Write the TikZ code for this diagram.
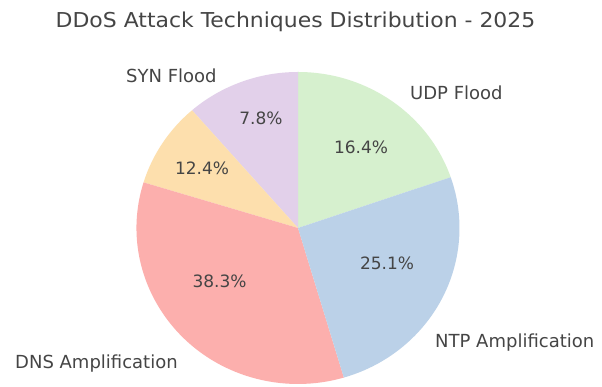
\documentclass[tikz,border=0pt]{standalone}
\usepackage{fontspec}
\setmainfont{DejaVu Sans}
\definecolor{cred}{HTML}{FCAFAD}
\definecolor{cblue}{HTML}{BBD1E8}
\definecolor{cgreen}{HTML}{D6F0CE}
\definecolor{cpurple}{HTML}{E2D0EA}
\definecolor{corange}{HTML}{FDDFAD}
\definecolor{ctext}{HTML}{454545}
\begin{document}
\begin{tikzpicture}[x=1pt,y=1pt,
  lbl/.style={text=ctext,font=\fontsize{18}{20}\selectfont,inner sep=0pt,anchor=base west},
  pct/.style={text=ctext,font=\fontsize{17}{19}\selectfont,inner sep=0pt,anchor=base},
  ttl/.style={text=ctext,font=\fontsize{20.5}{23}\selectfont,inner sep=0pt,anchor=base,xscale=1.07}]
\fill[white] (0,0) rectangle (602,387);
\useasboundingbox (0,0) rectangle (602,387);
\coordinate (c) at (298,159);
% wedges
\fill[cgreen]  (c) -- ++(19:161.5 and 156)  arc[start angle=19,  end angle=90,   x radius=161.5, y radius=156] -- cycle;
\fill[cpurple] (c) -- ++(90:161.5 and 156)  arc[start angle=90,  end angle=131,  x radius=161.5, y radius=156] -- cycle;
\fill[corange] (c) -- ++(131:161.5 and 156) arc[start angle=131, end angle=163,  x radius=161.5, y radius=156] -- cycle;
\fill[cred]    (c) -- ++(163:161.5 and 156) arc[start angle=163, end angle=286.5,x radius=161.5, y radius=156] -- cycle;
\fill[cblue]   (c) -- ++(-73.5:161.5 and 156) arc[start angle=-73.5, end angle=19, x radius=161.5, y radius=156] -- cycle;
% title
\node[ttl] (title) at (295.5,359.7) {DDoS Attack Techniques Distribution - 2025};
% labels
\node[lbl] (syn) at (126,304) {SYN Flood};
\node[lbl] (udp) at (410,287) {UDP Flood};
\node[lbl] (ntp) at (435,39.7) {NTP Amplification};
\node[lbl] (dns) at (15,18.7) {DNS Amplification};
% percentages
\node[pct] (psyn) at (261,262) {7.8\%};
\node[pct] (poth) at (202,212) {12.4\%};
\node[pct] (pudp) at (361,233.7) {16.4\%};
\node[pct] (pntp) at (387,117.7) {25.1\%};
\node[pct] (pdns) at (219.5,99.7) {38.3\%};
\end{tikzpicture}
\end{document}
